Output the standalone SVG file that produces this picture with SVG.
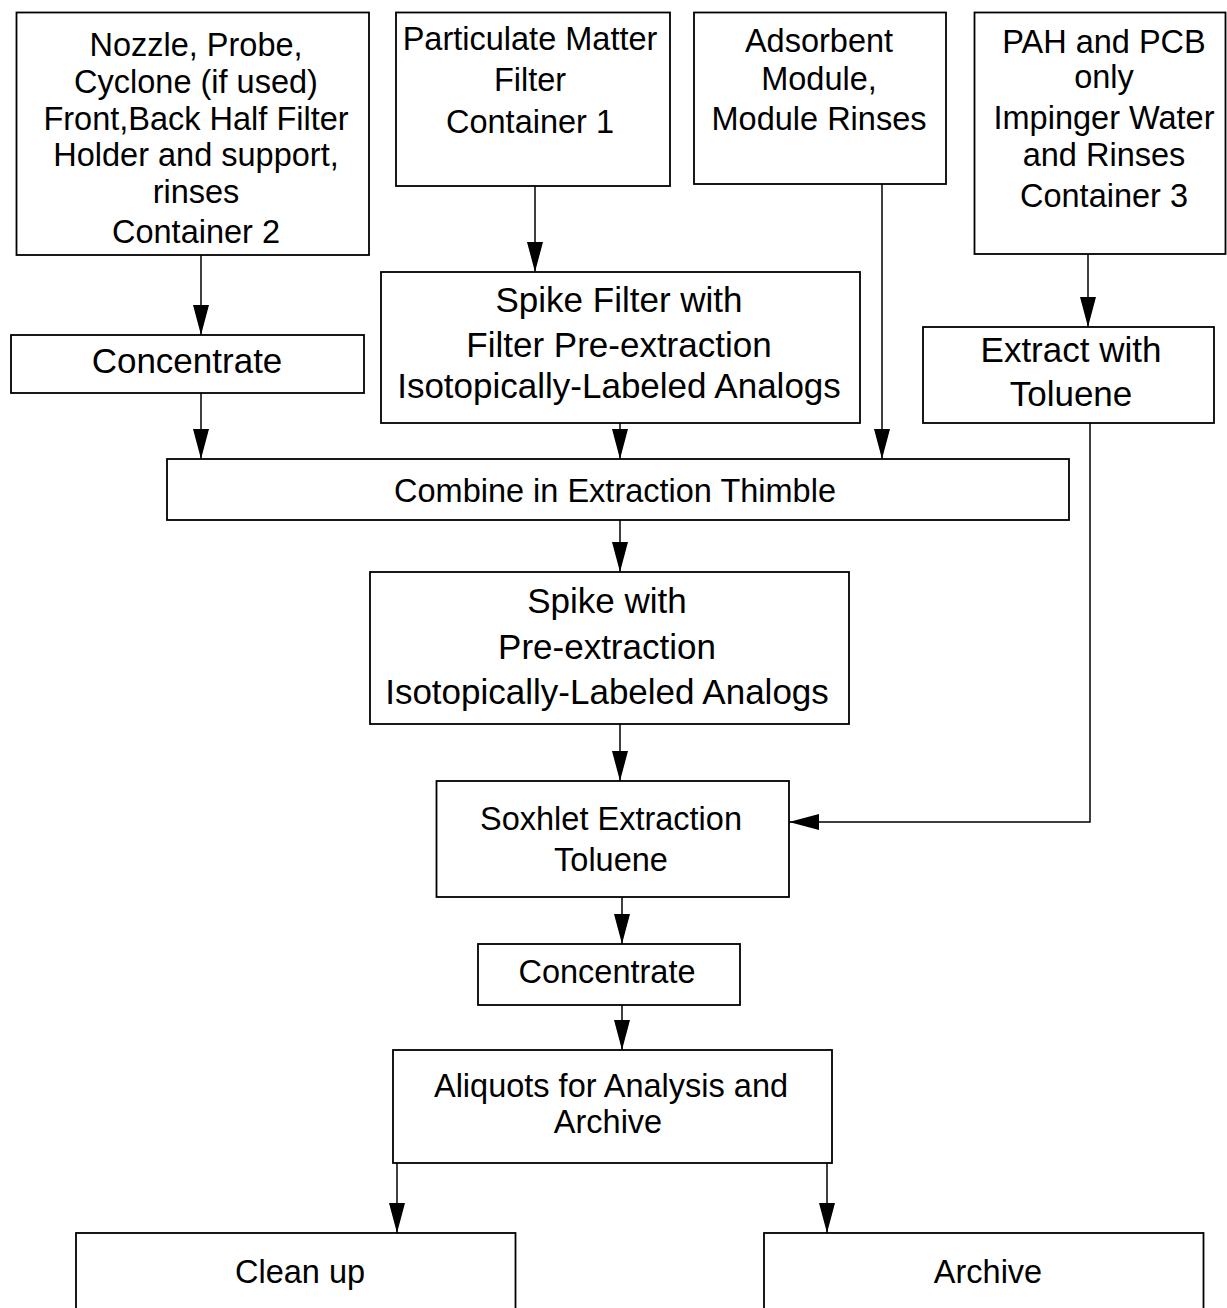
<svg xmlns="http://www.w3.org/2000/svg" width="1227" height="1308" viewBox="0 0 1227 1308">
<style>
  .box { fill: #fff; stroke: #000; stroke-width: 1.8; }
  .t { font-family: "Liberation Sans", Arial, sans-serif; fill: #000; text-anchor: middle; font-size: 32.5px; }
  .tl { font-size: 35px; }
  .c { fill: none; stroke: #000; stroke-width: 1.5; marker-end: url(#ah); }
</style>
<defs>
  <marker id="ah" viewBox="0 0 30 16" refX="30" refY="8" markerWidth="30" markerHeight="16" markerUnits="userSpaceOnUse" orient="auto">
    <path d="M0,0 L30,8 L0,16 z" fill="#000"/>
  </marker>
</defs>
<rect width="1227" height="1308" fill="#fff"/>

<g id="connectors">
  <path class="c" d="M201,255 V335"/>
  <path class="c" d="M201,393 V459"/>
  <path class="c" d="M535,186 V272"/>
  <path class="c" d="M620,423 V459"/>
  <path class="c" d="M882,184 V459"/>
  <path class="c" d="M1088,254 V327"/>
  <path class="c" d="M1090,423 V822 H789"/>
  <path class="c" d="M620,520 V572"/>
  <path class="c" d="M620,724 V781"/>
  <path class="c" d="M622,897 V944"/>
  <path class="c" d="M622,1005 V1050"/>
  <path class="c" d="M397,1163 V1233"/>
  <path class="c" d="M827,1163 V1233"/>
</g>

<g id="n-container2">
  <rect class="box" x="16.5" y="12.5" width="352.5" height="242.5"/>
  <text class="t" x="196" y="56">Nozzle, Probe,</text>
  <text class="t" x="196" y="93">Cyclone (if used)</text>
  <text class="t" x="196" y="130">Front,Back Half Filter</text>
  <text class="t" x="196" y="166">Holder and support,</text>
  <text class="t" x="196" y="203">rinses</text>
  <text class="t" x="196" y="243">Container 2</text>
</g>

<g id="n-container1">
  <rect class="box" x="396" y="12.5" width="274" height="173.5"/>
  <text class="t" x="530" y="50">Particulate Matter</text>
  <text class="t" x="530" y="91">Filter</text>
  <text class="t" x="530" y="133">Container 1</text>
</g>

<g id="n-adsorbent">
  <rect class="box" x="694" y="12.5" width="252" height="171.5"/>
  <text class="t" x="819" y="52">Adsorbent</text>
  <text class="t" x="819" y="90">Module,</text>
  <text class="t" x="819" y="130">Module Rinses</text>
</g>

<g id="n-container3">
  <rect class="box" x="974.5" y="12.5" width="251" height="241.5"/>
  <text class="t" x="1104" y="53">PAH and PCB</text>
  <text class="t" x="1104" y="88">only</text>
  <text class="t" x="1104" y="129">Impinger Water</text>
  <text class="t" x="1104" y="166">and Rinses</text>
  <text class="t" x="1104" y="207">Container 3</text>
</g>

<g id="n-concentrate1">
  <rect class="box" x="11" y="335" width="353" height="58"/>
  <text class="t tl" x="187" y="373">Concentrate</text>
</g>

<g id="n-spikefilter">
  <rect class="box" x="381" y="272" width="479" height="151"/>
  <text class="t tl" x="619" y="312">Spike Filter with</text>
  <text class="t tl" x="619" y="357">Filter Pre-extraction</text>
  <text class="t tl" x="619" y="398">Isotopically-Labeled Analogs</text>
</g>

<g id="n-extract">
  <rect class="box" x="923" y="327" width="291" height="96"/>
  <text class="t tl" x="1071" y="362">Extract with</text>
  <text class="t tl" x="1071" y="406">Toluene</text>
</g>

<g id="n-combine">
  <rect class="box" x="167" y="459" width="902" height="61"/>
  <text class="t" x="615" y="502">Combine in Extraction Thimble</text>
</g>

<g id="n-spikewith">
  <rect class="box" x="370" y="572" width="479" height="152"/>
  <text class="t tl" x="607" y="613">Spike with</text>
  <text class="t tl" x="607" y="659">Pre-extraction</text>
  <text class="t tl" x="607" y="704">Isotopically-Labeled Analogs</text>
</g>

<g id="n-soxhlet">
  <rect class="box" x="436.5" y="781" width="352.5" height="116"/>
  <text class="t" x="611" y="830">Soxhlet Extraction</text>
  <text class="t" x="611" y="871">Toluene</text>
</g>

<g id="n-concentrate2">
  <rect class="box" x="478" y="944" width="262" height="61"/>
  <text class="t" x="607" y="983">Concentrate</text>
</g>

<g id="n-aliquots">
  <rect class="box" x="393" y="1050" width="439" height="113"/>
  <text class="t" x="611" y="1097">Aliquots for Analysis and</text>
  <text class="t" x="608" y="1133">Archive</text>
</g>

<g id="n-cleanup">
  <rect class="box" x="76" y="1233" width="439.5" height="90"/>
  <text class="t" x="300" y="1283">Clean up</text>
</g>

<g id="n-archive">
  <rect class="box" x="764" y="1233" width="439.5" height="90"/>
  <text class="t" x="988" y="1283">Archive</text>
</g>
</svg>
